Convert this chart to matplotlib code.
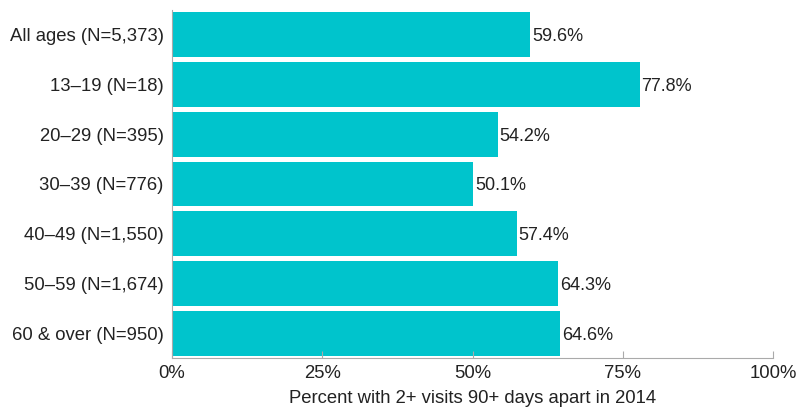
import matplotlib.pyplot as plt

plt.rcParams['font.family'] = ['Liberation Sans', 'DejaVu Sans']

categories = ['All ages (N=5,373)', '13–19 (N=18)', '20–29 (N=395)', '30–39 (N=776)',
              '40–49 (N=1,550)', '50–59 (N=1,674)', '60 & over (N=950)']
values = [59.6, 77.8, 54.2, 50.1, 57.4, 64.3, 64.6]
xticks = [0, 25, 50, 75, 100]

fig = plt.figure(figsize=(7.99, 4.07), dpi=100)
ax = fig.add_axes([172/799, 1 - 358/407, 601/799, 348/407])

pos = list(range(len(values)))[::-1]
ax.barh(pos, values, height=0.9, color='#00C4CC')
for p, v in zip(pos, values):
    ax.text(v + 0.3, p - 0.04, f'{v:.1f}%', va='center', ha='left', fontsize=13, color='#222222')

ax.set_xlim(0, 100)
ax.set_ylim(-0.5, len(values) - 0.5)
ax.set_yticks(pos)
ax.set_yticklabels(categories, fontsize=13.3, color='#222222')
ax.set_xticks(xticks)
ax.set_xticklabels([f'{t}%' for t in xticks], fontsize=13.3, color='#222222')
ax.set_xlabel('Percent with 2+ visits 90+ days apart in 2014', fontsize=13.3, color='#222222', labelpad=6)

for s in ['top', 'right']:
    ax.spines[s].set_visible(False)
for s in ['left', 'bottom']:
    ax.spines[s].set_color('#aaaaaa')
ax.tick_params(axis='y', length=0, pad=6)
ax.tick_params(axis='x', direction='in', length=5, color='#aaaaaa', pad=5)

fig.savefig('out.png', dpi=100)
